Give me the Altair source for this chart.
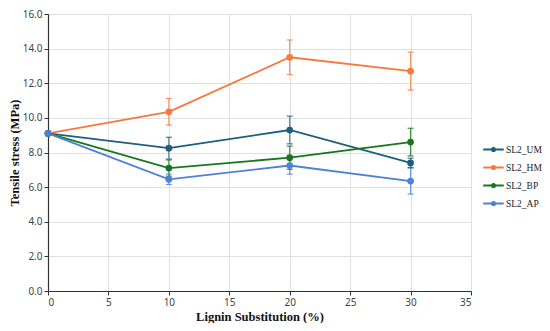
import altair as alt
import pandas as pd

x_vals = [0, 10, 20, 30]
series_names = ["SL2_UM", "SL2_HM", "SL2_BP", "SL2_AP"]
um = [9.1, 8.25, 9.3, 7.4]
hm = [9.1, 10.35, 13.5, 12.7]
bp = [9.1, 7.1, 7.7, 8.6]
ap = [9.1, 6.45, 7.25, 6.35]
um_err = [0.0, 0.63, 0.8, 0.27]
hm_err = [0.0, 0.77, 1.0, 1.1]
bp_err = [0.0, 0.47, 0.67, 0.8]
ap_err = [0.0, 0.3, 0.5, 0.75]
colors = ["#1d5f7d", "#f47a3e", "#17761f", "#4f7fd8"]
x_ticks = [0, 5, 10, 15, 20, 25, 30, 35]
y_ticks = [0, 2, 4, 6, 8, 10, 12, 14, 16]

rows = []
for name, vals, errs in zip(series_names, [um, hm, bp, ap], [um_err, hm_err, bp_err, ap_err]):
    for xv, v, e in zip(x_vals, vals, errs):
        rows.append({"x": xv, "y": v, "lo": v - e, "hi": v + e, "series": name, "err": e})
df = pd.DataFrame(rows)

cscale = alt.Scale(domain=series_names, range=colors)
xscale = alt.Scale(domain=[0, 35], nice=False, zero=True)
yscale = alt.Scale(domain=[0, 16], nice=False, zero=True)

axis_common = dict(
    titleFont="Liberation Serif",
    titleFontSize=12.5,
    titleFontWeight="bold",
    titleColor="#111111",
    labelFont="Noto Sans",
    labelFontSize=10,
    labelColor="#444444",
    domainColor="#333333",
    domainWidth=1.2,
    tickColor="#333333",
    tickSize=4,
    gridColor="#e0e0e0",
    labelPadding=2,
    labelOverlap=False,
)

def X(field):
    return alt.X(field, type="quantitative", scale=xscale,
                 axis=alt.Axis(values=x_ticks, title="Lignin Substitution (%)", titlePadding=3, **axis_common))

def Y(field):
    return alt.Y(field, type="quantitative", scale=yscale,
                 axis=alt.Axis(values=y_ticks, format=".1f", title="Tensile stress (MPa)", titlePadding=1, **axis_common))

color = alt.Color(
    "series:N",
    scale=cscale,
    sort=series_names,
    legend=alt.Legend(
        title=None,
        orient="none",
        legendX=434,
        legendY=124,
        symbolType="M-1,0L1,0M-0.15,0a0.15,0.15 0 1,0 0.3,0a0.15,0.15 0 1,0 -0.3,0",
        symbolSize=420,
        symbolStrokeWidth=2.0,
        labelFont="Liberation Serif",
        labelFontSize=9.5,
        labelColor="#222222",
        rowPadding=0,
        labelOffset=1,
    ),
)
ecolor = alt.Color("series:N", scale=cscale, legend=None)

base = alt.Chart(df)
errdf = base.transform_filter("datum.err > 0")
rules = errdf.mark_rule(strokeWidth=1.2, opacity=0.8).encode(
    x=X("x"), y=Y("lo"), y2="hi:Q", color=ecolor
)
caps_hi = errdf.mark_tick(thickness=1.2, size=6, opacity=0.8, orient="horizontal").encode(
    x=X("x"), y=Y("hi"), color=ecolor
)
caps_lo = errdf.mark_tick(thickness=1.2, size=6, opacity=0.8, orient="horizontal").encode(
    x=X("x"), y=Y("lo"), color=ecolor
)
lines = base.mark_line(strokeWidth=1.8).encode(x=X("x"), y=Y("y"), color=color, order="x:Q")
points = base.mark_circle(size=45, opacity=1).encode(x=X("x"), y=Y("y"), color=ecolor)

chart = alt.layer(lines, rules, caps_hi, caps_lo, points).properties(
    width=423,
    height=277,
    autosize=alt.AutoSizeParams(type="none"),
    padding={"left": 40, "top": 6, "right": 71, "bottom": 32},
).configure_view(stroke=None).configure_axis(grid=True)

chart.save("out.html", embed_options={"renderer": "svg", "actions": False})
